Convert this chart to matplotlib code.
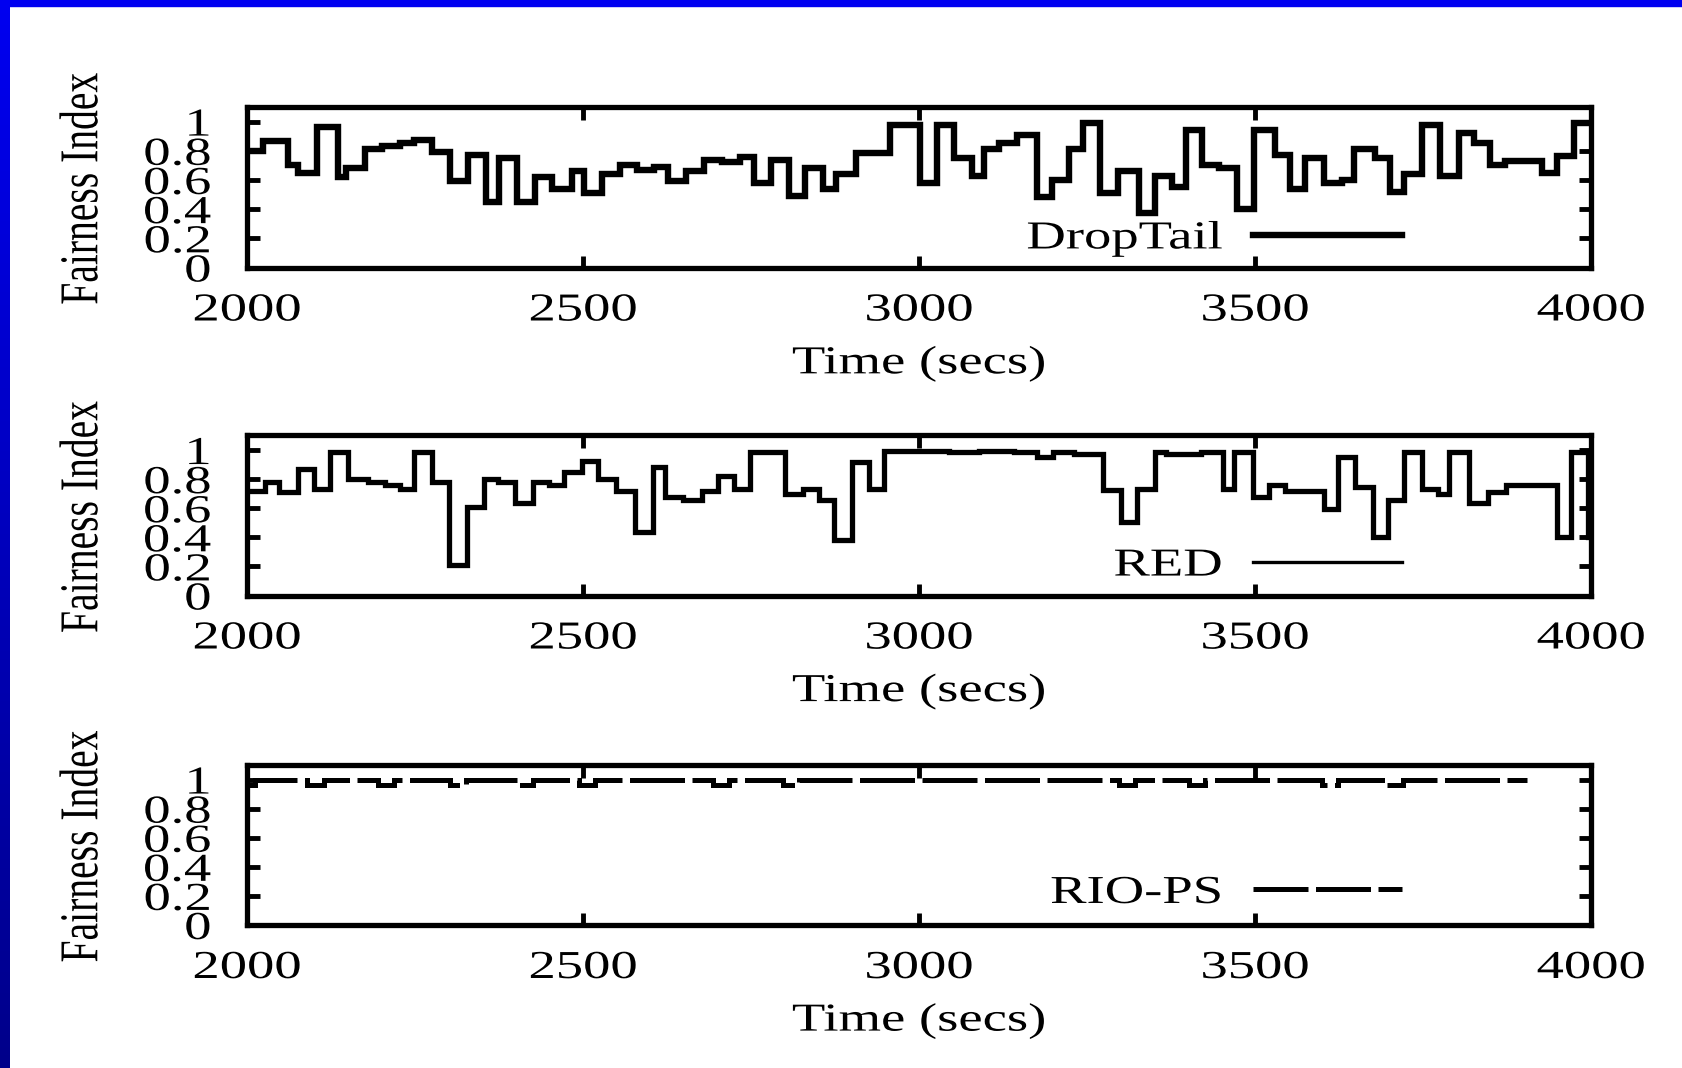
import numpy as np
import matplotlib
matplotlib.use("Agg")
import matplotlib.pyplot as plt
from matplotlib.lines import Line2D
from matplotlib.patches import Rectangle
from matplotlib.colors import LinearSegmentedColormap
from matplotlib.patheffects import AbstractPathEffect
from matplotlib.transforms import Affine2D


# fairness index over time (step start time, value)
droptail_t = [2000, 2024, 2061, 2076, 2104, 2135, 2148, 2175, 2201, 2228,
              2248, 2275, 2302, 2329, 2355, 2375, 2402, 2429, 2454, 2483,
              2501, 2528, 2555, 2580, 2606, 2626, 2653, 2680, 2707, 2734,
              2754, 2780, 2807, 2831, 2857, 2877, 2906, 2957, 3001, 3027,
              3052, 3079, 3096, 3119, 3146, 3175, 3198, 3223, 3244, 3270,
              3296, 3327, 3351, 3377, 3398, 3421, 3447, 3473, 3498, 3530,
              3552, 3575, 3602, 3629, 3647, 3679, 3701, 3721, 3748, 3775,
              3803, 3826, 3850, 3872, 3927, 3949, 3974, 4000]
droptail_v = [0.80, 0.87, 0.70, 0.645, 0.96, 0.62, 0.68, 0.81, 0.83, 0.85,
              0.875, 0.79, 0.595, 0.77, 0.45, 0.75, 0.45, 0.62, 0.54, 0.66,
              0.51, 0.64, 0.70, 0.67, 0.69, 0.595, 0.66, 0.74, 0.72, 0.76,
              0.58, 0.74, 0.49, 0.68, 0.535, 0.64, 0.785, 0.975, 0.58, 0.98,
              0.75, 0.625, 0.81, 0.85, 0.91, 0.48, 0.60, 0.815, 0.99, 0.51,
              0.66, 0.375, 0.625, 0.55, 0.94, 0.70, 0.68, 0.40, 0.94, 0.77,
              0.535, 0.75, 0.58, 0.60, 0.81, 0.75, 0.52, 0.64, 0.975, 0.625,
              0.92, 0.855, 0.70, 0.73, 0.65, 0.765, 0.99, 0.99]

red_t = [2000, 2027, 2047, 2076, 2099, 2123, 2150, 2180, 2205, 2228,
         2248, 2275, 2300, 2327, 2352, 2373, 2399, 2426, 2450, 2472,
         2498, 2523, 2549, 2577, 2604, 2622, 2649, 2677, 2701, 2724,
         2749, 2801, 2827, 2851, 2873, 2900, 2925, 2948, 3045, 3090,
         3141, 3176, 3199, 3231, 3274, 3301, 3324, 3351, 3367, 3419,
         3452, 3469, 3497, 3521, 3544, 3602, 3623, 3649, 3675, 3698,
         3722, 3749, 3772, 3789, 3819, 3847, 3873, 3950, 3970, 3995, 4000]
red_v = [0.72, 0.78, 0.71, 0.87, 0.73, 0.99, 0.80, 0.78, 0.757, 0.735,
         0.99, 0.777, 0.21, 0.61, 0.80, 0.777, 0.634, 0.78, 0.757, 0.85,
         0.925, 0.80, 0.72, 0.44, 0.884, 0.677, 0.655, 0.72, 0.82, 0.734,
         0.986, 0.70, 0.734, 0.66, 0.38, 0.92, 0.734, 0.995, 0.985, 0.995,
         0.985, 0.955, 0.99, 0.97, 0.725, 0.507, 0.734, 0.986, 0.973, 0.986,
         0.734, 0.986, 0.677, 0.757, 0.72, 0.595, 0.952, 0.743, 0.40, 0.655,
         0.986, 0.734, 0.70, 0.986, 0.634, 0.71, 0.757, 0.405, 0.99, 0.405, 0.405]

riops_t = [2000, 2012, 2090, 2114, 2195, 2219, 2302, 2326, 2402, 2426,
           2494, 2518, 2693, 2717, 2797, 2821, 3298, 3322, 3402, 3426,
           3599, 3623, 3696, 3720, 3905]
riops_v = [0.965, 1.0, 0.965, 1.0, 0.965, 1.0, 0.965, 1.0, 0.965, 1.0,
           0.965, 1.0, 0.965, 1.0, 0.965, 1.0, 0.965, 1.0, 0.965, 1.0,
           0.965, 1.0, 0.965, 1.0, 1.0]

series_names = ["DropTail", "RED", "RIO-PS"]
x_ticks = [2000, 2500, 3000, 3500, 4000]
y_ticks = [0, 0.2, 0.4, 0.6, 0.8, 1.0]
y_tick_labels = ["0", "0.2", "0.4", "0.6", "0.8", "1"]

plt.rcParams["font.family"] = ["Liberation Serif", "DejaVu Serif"]
FS = 28.5
WIDE = 1.38   # the source picture is squashed sideways, text too


class Stretch(AbstractPathEffect):
    # widen drawn text in x around a point of its ink box (0 left, 1 right)
    def __init__(self, sx=WIDE, anchor=0.5):
        super().__init__()
        self.sx = sx
        self.anchor = anchor

    def draw_path(self, renderer, gc, tpath, affine, rgbFace=None):
        ext = tpath.get_extents(affine)
        x0 = ext.x0 + self.anchor * (ext.x1 - ext.x0)
        affine = affine + Affine2D().translate(-x0, 0).scale(self.sx, 1).translate(x0, 0)
        renderer.draw_path(gc, tpath, affine, rgbFace)


W, H = 1682, 1068
fig = plt.figure(figsize=(W / 100, H / 100), dpi=100)

# blue slide border: top strip and a darkening strip on the left
fig.patches.append(Rectangle((0, 1 - 6 / H), 1, 6 / H, transform=fig.transFigure,
                             color="#0000F0", zorder=5))
border = fig.add_axes([0, 0, 10 / W, 1])
border.imshow(np.linspace(0, 1, 256).reshape(-1, 1), aspect="auto",
              cmap=LinearSegmentedColormap.from_list("edge", ["#0000F0", "#00008A"]))
border.set_axis_off()

left, right = 247, 1591
frames = [(107, 267.5), (435.5, 595.5), (765, 925)]
data = [(droptail_t, droptail_v), (red_t, red_v), (riops_t, riops_v)]
line_styles = [dict(lw=4.6, ls="-"), dict(lw=3.8, ls="-"), dict(lw=3.6, ls=(0, (11, 1.5)))]
legend_lw = [4.6, 2.4, 3.6]
legend_y = [0.178, 0.184, 0.197]

for i, ((t, v), (top, bottom)) in enumerate(zip(data, frames)):
    ax = fig.add_axes([left / W, 1 - bottom / H, (right - left) / W, (bottom - top) / H])

    ax.step(t, v, where="post", color="black", solid_joinstyle="miter",
            dash_joinstyle="miter", solid_capstyle="butt", **line_styles[i])

    ax.set_xlim(2000, 4000)
    ax.set_ylim(0, 1.1)
    ax.set_xticks(x_ticks)
    ax.set_yticks(y_ticks)
    ax.set_yticklabels(y_tick_labels)

    ax.tick_params(direction="in", top=True, right=True, length=9, width=3.5,
                   labelsize=FS, colors="black")
    ax.tick_params(axis="x", pad=18)
    ax.tick_params(axis="y", pad=26)
    for s in ax.spines.values():
        s.set_linewidth(3.8)

    ax.set_xlabel("Time (secs)", fontsize=FS)
    ax.xaxis.set_label_coords(0.5, -0.485)
    ax.set_ylabel("Fairness Index", fontsize=FS, va="center")
    ax.yaxis.set_label_coords(-0.1223, 0.49)

    handle = Line2D([], [], color="black", lw=legend_lw[i], ls=line_styles[i]["ls"])
    leg = ax.legend([handle], [series_names[i]], loc="center right",
                    bbox_to_anchor=((1402 - left) / (right - left), legend_y[i]),
                    frameon=False, markerfirst=False, fontsize=FS,
                    handlelength=3.76, handletextpad=0.78,
                    borderpad=0, borderaxespad=0)

    for lbl in ax.get_xticklabels():
        lbl.set_path_effects([Stretch()])
    for lbl in ax.get_yticklabels():
        lbl.set_path_effects([Stretch(anchor=1.0)])
    ax.xaxis.label.set_path_effects([Stretch()])
    ax.yaxis.label.set_path_effects([Stretch()])
    for txt in leg.get_texts():
        txt.set_path_effects([Stretch(anchor=1.0)])

fig.savefig("out.png", dpi=100)
